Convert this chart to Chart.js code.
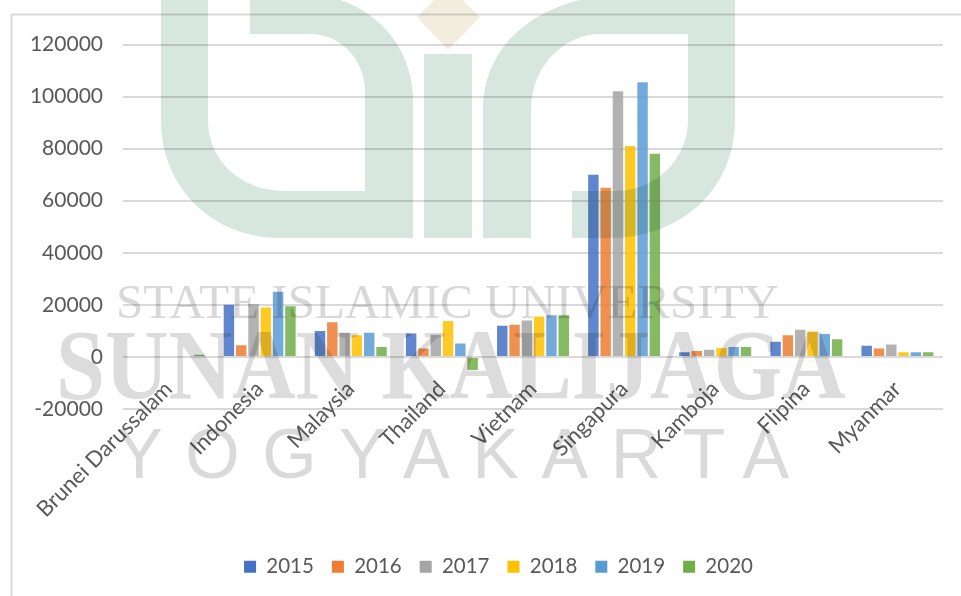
<!DOCTYPE html>
<html>
<head>
<meta charset="utf-8">
<style>
html,body{margin:0;padding:0;background:#fff;width:961px;height:596px;overflow:hidden}
canvas{display:block;filter:blur(0.45px)}
</style>
<script src="https://cdn.jsdelivr.net/npm/chart.js@4/dist/chart.umd.min.js"></script>
</head>
<body>
<canvas id="c" width="961" height="596"></canvas>
<script>
const categories = ["Brunei Darussalam","Indonesia","Malaysia","Thailand","Vietnam","Singapura","Kamboja","Flipina","Myanmar"];
const y2015 = [0,20000,10000,9000,12000,70000,1800,5800,4300];
const y2016 = [0,4500,13300,3200,12400,65000,2300,8300,3200];
const y2017 = [0,20300,9300,8500,14000,102000,2800,10400,4800];
const y2018 = [0,19000,8300,13800,15500,81000,3400,9800,1800];
const y2019 = [0,25000,9300,5200,16000,105500,3800,8800,1800];
const y2020 = [800,19500,3800,-5000,16000,78000,3800,6800,1800];
const seriesNames = ["2015","2016","2017","2018","2019","2020"];
const seriesValues = [y2015,y2016,y2017,y2018,y2019,y2020];
const seriesColors = ["#4472C4","#ED7D31","#A5A5A5","#FFC000","#5B9BD5","#70AD47"];
const yMin = -20000, yMax = 120000, yStep = 20000;
const textColor = "#595959", gridColor = "#d9d9d9", fontFamily = "Lato";

const frame = {
  id:"frame",
  afterLayout(chart){
    chart.legend.left += 27;
    chart.legend.right += 27;
  },
  beforeDraw(chart){
    const c = chart.ctx;
    c.save();
    c.fillStyle="#fff"; c.fillRect(0,0,chart.width,chart.height);
    c.strokeStyle=gridColor; c.lineWidth=2;
    c.beginPath(); c.moveTo(11.5,596); c.lineTo(11.5,14.5); c.lineTo(961,14.5); c.stroke();
    c.restore();
  }
};

const watermark = {
  id:"watermark",
  afterDatasetsDraw(chart){
    const c = chart.ctx;
    c.save();
    c.globalCompositeOperation="multiply";
    c.fillStyle="#d8e6e0";
    c.beginPath();
    c.moveTo(161,0); c.lineTo(161,120);
    c.bezierCurveTo(161,190,215,238,280,238);
    c.lineTo(413,238); c.lineTo(413,100);
    c.bezierCurveTo(413,55,385,15,340,0);
    c.lineTo(250,0); c.lineTo(250,34); c.lineTo(310,34);
    c.bezierCurveTo(345,34,365,65,365,90);
    c.lineTo(365,191); c.lineTo(285,191);
    c.bezierCurveTo(240,191,208,160,208,120);
    c.lineTo(208,0); c.closePath(); c.fill();
    c.fillRect(424,54,48,184);
    c.beginPath();
    c.moveTo(483,238); c.lineTo(531,238); c.lineTo(531,110);
    c.bezierCurveTo(531,65,565,34,600,34);
    c.lineTo(688,34); c.lineTo(688,120);
    c.bezierCurveTo(688,160,655,191,615,191);
    c.lineTo(572,191); c.lineTo(572,238); c.lineTo(610,238);
    c.bezierCurveTo(680,238,735,190,735,120);
    c.lineTo(735,0); c.lineTo(580,0);
    c.bezierCurveTo(520,15,483,55,483,110);
    c.closePath(); c.fill();
    c.fillStyle="#f3ede0";
    c.beginPath(); c.moveTo(448,-14); c.lineTo(480,17); c.lineTo(448,50); c.lineTo(417,17); c.closePath(); c.fill();
    c.textBaseline="alphabetic"; c.textAlign="left";
    c.fillStyle="#d8d8d8";
    c.font='49px "Liberation Serif"'; c.letterSpacing="0px";
    c.fillText("STATE ISLAMIC UNIVERSITY",116,318);
    c.fillStyle="#dcdcdc";
    c.font='bold 88px "Liberation Serif"'; c.letterSpacing="0px";
    c.save();
    c.translate(56,398); c.scale(1,1.12);
    c.fillText("SUNAN KALIJAGA",0,0);
    c.restore();
    c.fillStyle="#dadada";
    c.font='70px "Liberation Sans"'; c.letterSpacing="22.5px";
    c.fillText("YOGYAKARTA",116,478);
    c.restore();
  }
};

new Chart(document.getElementById("c"),{
  type:"bar",
  data:{
    labels:categories,
    datasets:seriesNames.map((n,i)=>({
      label:n,
      data:seriesValues[i],
      backgroundColor:seriesColors[i]+"D9",
      borderWidth:0,
      categoryPercentage:0.81,
      barPercentage:0.85
    }))
  },
  options:{
    responsive:false,
    animation:false,
    devicePixelRatio:1,
    layout:{padding:{top:44.5,right:18,left:0,bottom:9}},
    plugins:{
      tooltip:{enabled:false},
      legend:{
        position:"bottom",
        labels:{
          boxWidth:12,boxHeight:12,padding:18,
          color:textColor,
          font:{family:fontFamily,size:20.5},
          generateLabels:()=>seriesNames.map((n,i)=>({text:n,fillStyle:seriesColors[i],strokeStyle:seriesColors[i],lineWidth:0,fontColor:textColor,datasetIndex:i}))
        }
      }
    },
    scales:{
      x:{
        grid:{display:false,drawTicks:false},
        border:{display:false},
        afterFit(s){ s.height=129.5; s._computeLabelArea=()=>undefined; },
        ticks:{
          autoSkip:false,minRotation:45,maxRotation:45,padding:-33,
          color:textColor,font:{family:fontFamily,size:22}
        }
      },
      y:{
        min:yMin,max:yMax,
        grid:{color:gridColor,lineWidth:2,drawTicks:false},
        border:{display:false},
        afterFit(s){ s.width=123; },
        ticks:{
          stepSize:yStep,padding:20,
          color:textColor,font:{family:fontFamily,size:21},
          callback:v=>String(v)
        }
      }
    }
  },
  plugins:[frame,watermark]
});
</script>
</body>
</html>
